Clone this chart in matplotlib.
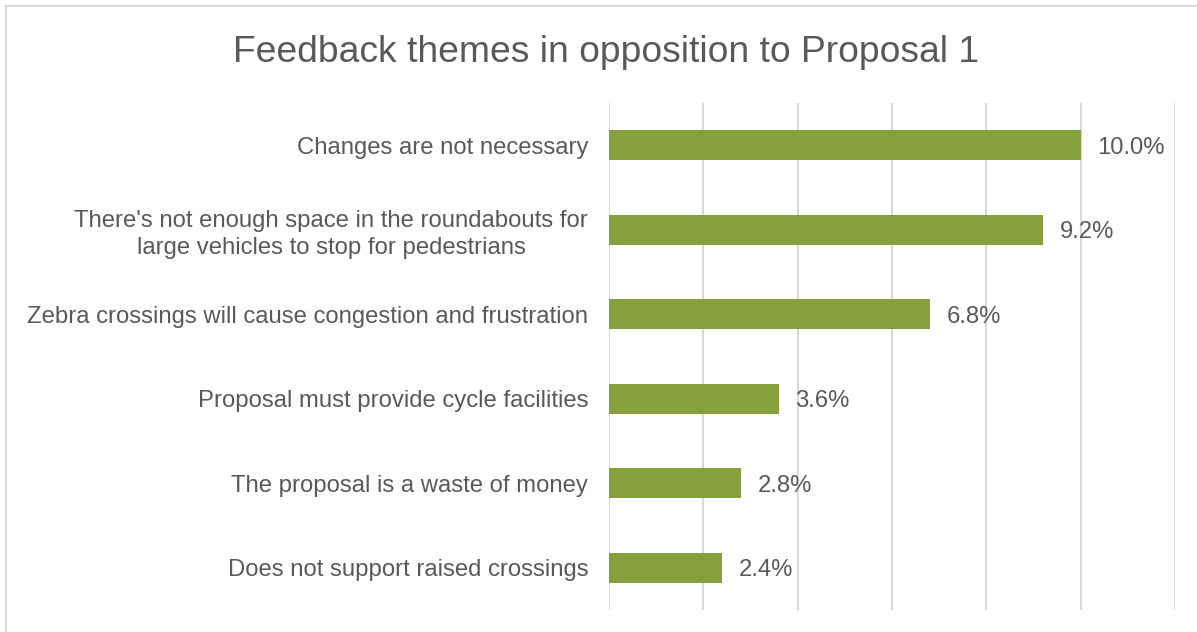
import matplotlib
matplotlib.use("Agg")
import matplotlib.pyplot as plt
from matplotlib.lines import Line2D

plt.rcParams['font.family'] = ['Liberation Sans', 'DejaVu Sans']

title = "Feedback themes in opposition to Proposal 1"
categories = [
    "Changes are not necessary",
    "There's not enough space in the roundabouts for\nlarge vehicles to stop for pedestrians",
    "Zebra crossings will cause congestion and frustration",
    "Proposal must provide cycle facilities",
    "The proposal is a waste of money",
    "Does not support raised crossings",
]
values = [10.0, 9.2, 6.8, 3.6, 2.8, 2.4]

TEXT = "#595959"
BAR = "#86A03E"
GRID = "#D9D9D9"

fig = plt.figure(figsize=(11.97, 6.32), dpi=100)
ax = fig.add_axes([609 / 1197, 1 - 610 / 632, (1175 - 609) / 1197, (610 - 103) / 632])

pos = list(range(len(categories)))
ax.barh(pos, values, height=0.355, color=BAR, zorder=3)

ax.set_xlim(0, 12)
ax.set_ylim(len(categories) - 0.5, -0.5)
ax.set_xticks(range(0, 13, 2))
ax.xaxis.grid(True, color=GRID, linewidth=1.5, zorder=0)
ax.tick_params(axis='x', length=0, labelbottom=False)
ax.tick_params(axis='y', length=0, pad=15, labelsize=17.2, labelcolor=TEXT)
ax.set_yticks(pos)
ax.set_yticklabels(categories, multialignment='center', linespacing=1.3,
                   va='center_baseline')
for s in ax.spines.values():
    s.set_visible(False)

for p, v in zip(pos, values):
    ax.annotate(f"{v:.1f}%", (v, p), xytext=(12, 0), textcoords='offset points',
                ha='left', va='center_baseline', fontsize=17.2, color=TEXT)

fig.text(606 / 1197, 1 - 48 / 632, title, ha='center', va='center_baseline',
         fontsize=26.8, color=TEXT)

# chart frame along the top and left edges
fig.add_artist(Line2D([6 / 1197, 6 / 1197], [0, 1 - 6 / 632], transform=fig.transFigure,
                      color=GRID, linewidth=1.5))
fig.add_artist(Line2D([6 / 1197, 1], [1 - 6 / 632, 1 - 6 / 632], transform=fig.transFigure,
                      color=GRID, linewidth=1.5))

fig.savefig("out.png", dpi=100)
